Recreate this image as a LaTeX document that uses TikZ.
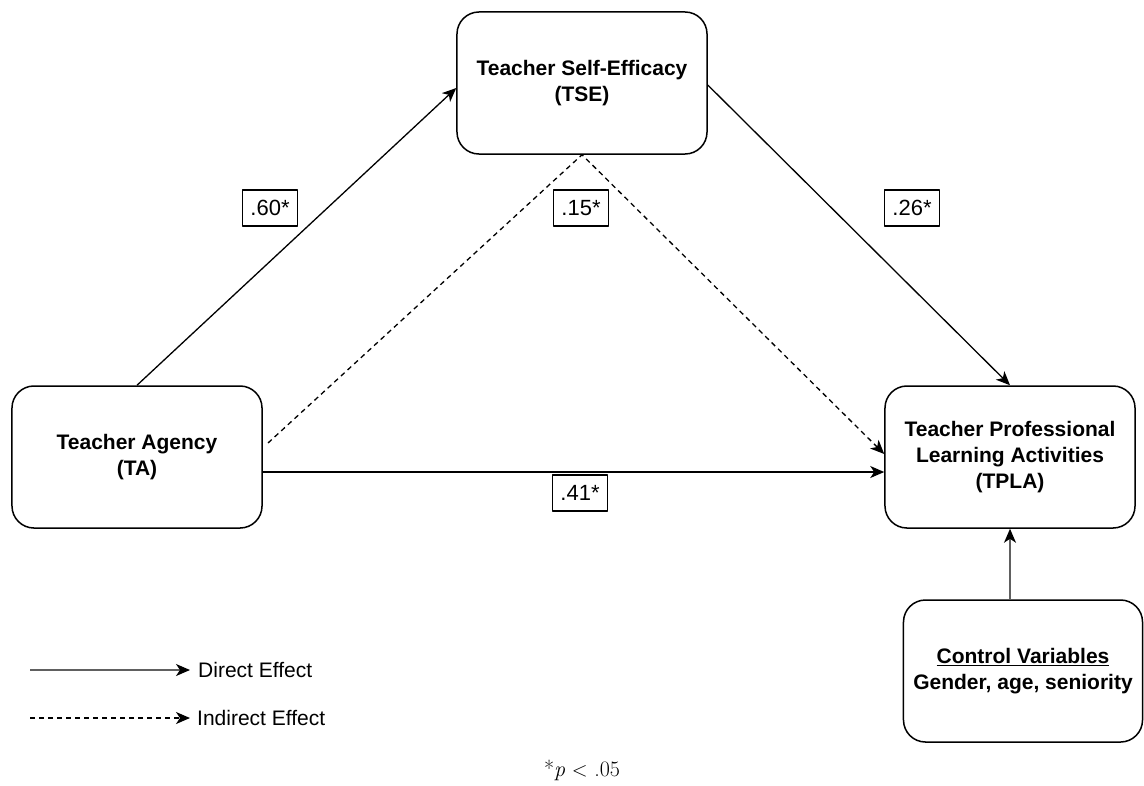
\documentclass[tikz,border=0pt]{standalone}
\usepackage{fontspec}
\newfontfamily\arial{Liberation Sans}
\usetikzlibrary{arrows.meta}
\def\h{0.0351459804}
\def\punkt#1#2{({(#1)*\h},{(-#2)*\h})}
\tikzset{
	box/.style={draw, line width=1.5pt, rounded corners=22pt,
		minimum width=250pt, minimum height=142pt, inner sep=0pt,
		align=center, font=\arial\bfseries\fontsize{21}{26}\selectfont},
	wert/.style={draw, line width=1.2pt, minimum width=55pt, minimum height=36pt,
		inner sep=0pt, font=\arial\fontsize{22}{26}\selectfont},
	pfeil/.style={line width=1.3pt, -{Stealth[length=14pt,width=12pt,inset=4pt,color=black]}},
	strich/.style={pfeil, dash pattern=on 5pt off 4pt},
	legende/.style={anchor=west, inner sep=8pt, font=\arial\fontsize{21}{25}\selectfont},
	punkt/.style={coordinate},
}
\begin{document}
\begin{tikzpicture}[line join=round]
	\useasboundingbox \punkt{0}{0} rectangle \punkt{1144}{785};
	% Konstrukte
	\node[box] (TSE) at \punkt{582}{83} {Teacher Self-Efficacy\\(TSE)};
	\node[box] (TA) at \punkt{137}{457} {Teacher Agency\\(TA)};
	\node[box] (TPLA) at \punkt{1010}{457} {Teacher Professional\\Learning Activities\\(TPLA)};
	\node[box, minimum width=239pt] (KV) at \punkt{1023}{671} {\underline{Control Variables}\\Gender, age, seniority};
	% Pfade
	\draw[pfeil] (TA.north) -- ([yshift=-5pt]TSE.west);
	\draw[pfeil] ([yshift=-2pt]TSE.east) -- (TPLA.north);
	\draw[pfeil] ([yshift=-15pt]TA.east) -- ([yshift=-15pt]TPLA.west);
	\node[punkt] (start) at \punkt{268}{443} {};
	\draw[strich] (start) -- (TSE.south) -- ([yshift=3pt]TPLA.west);
	\draw[pfeil, gray!75!black] (KV.north -| TPLA.south) -- (TPLA.south);
	% Koeffizienten
	\node[wert] (w60) at \punkt{270}{208} {.60*};
	\node[wert] (w15) at \punkt{581}{208} {.15*};
	\node[wert] (w26) at \punkt{912}{208} {.26*};
	\node[wert] (w41) at \punkt{580}{493} {.41*};
	% Legende
	\node[punkt] (d) at \punkt{30}{670} {};
	\node[punkt] (i) at \punkt{30}{718} {};
	\node[legende] (direkt) at \punkt{190}{670} {Direct Effect};
	\node[legende, inner sep=7pt] (indirekt) at \punkt{190}{718} {Indirect Effect};
	\draw[pfeil, gray!75!black] (d) -- (direkt.west);
	\draw[strich] (i) -- (indirekt.west);
	\node[font=\fontsize{22}{26}\selectfont] (fn) at \punkt{582}{770} {*\textit{p} $<$ .05};
\end{tikzpicture}
\end{document}
